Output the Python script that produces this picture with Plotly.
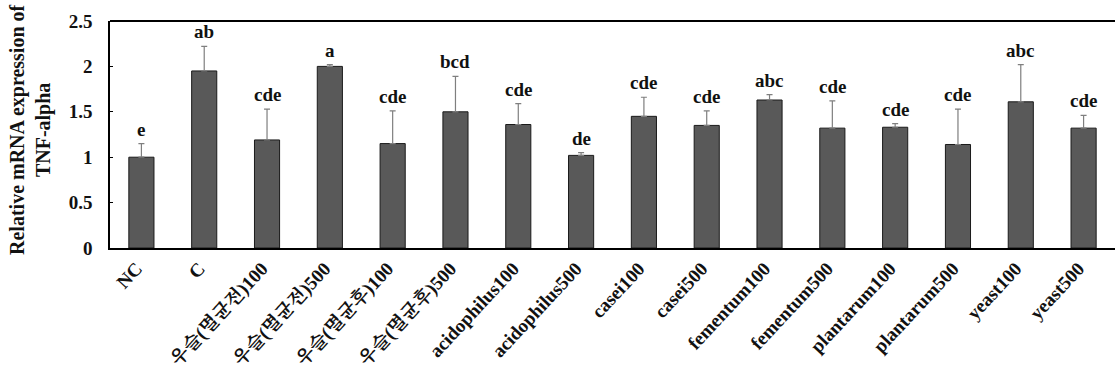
import plotly.graph_objects as go

categories = ["NC", "C", "우슬(멸균전)100", "우슬(멸균전)500", "우슬(멸균후)100", "우슬(멸균후)500",
              "acidophilus100", "acidophilus500", "casei100", "casei500",
              "fementum100", "fementum500", "plantarum100", "plantarum500",
              "yeast100", "yeast500"]
means = [1.00, 1.95, 1.19, 2.00, 1.15, 1.50, 1.36, 1.02, 1.45, 1.35, 1.63, 1.32, 1.33, 1.14, 1.61, 1.32]
sd_plus = [0.15, 0.27, 0.34, 0.02, 0.36, 0.39, 0.23, 0.03, 0.21, 0.16, 0.06, 0.30, 0.04, 0.39, 0.41, 0.14]
letters = ["e", "ab", "cde", "a", "cde", "bcd", "cde", "de", "cde", "cde",
           "abc", "cde", "cde", "cde", "abc", "cde"]

SERIF = "Liberation Serif, Times New Roman, Noto Serif CJK KR, Noto Sans CJK KR, serif"

fig = go.Figure()
fig.add_trace(go.Bar(
    x=categories, y=means, width=0.4,
    marker=dict(color="#595959", line=dict(color="#1a1a1a", width=1)),
    error_y=dict(type="data", array=sd_plus, arrayminus=[0] * len(means),
                 symmetric=False, color="#7f7f7f", thickness=1.2, width=3),
))

for cat, m, e, lab in zip(categories, means, sd_plus, letters):
    fig.add_annotation(x=cat, y=m + e, text=f"<b>{lab}</b>", showarrow=False,
                       yanchor="bottom", yshift=2,
                       font=dict(family=SERIF, size=19, color="#111"))

fig.add_annotation(xref="paper", yref="paper", x=-0.0786, y=0.52,
                   text="<b>Relative mRNA expression of<br>TNF-alpha</b>",
                   textangle=-90, showarrow=False, xanchor="center", yanchor="middle",
                   font=dict(family=SERIF, size=20, color="#111"))

# top frame line of the plot area
fig.add_shape(type="line", xref="paper", yref="paper", x0=0, x1=1, y0=1, y1=1,
              line=dict(color="black", width=2))

fig.update_layout(
    width=1115, height=379,
    margin=dict(l=110, r=0, t=21, b=131, pad=0),
    paper_bgcolor="white", plot_bgcolor="white",
    showlegend=False,
    bargap=0.6,
)
fig.update_xaxes(showline=True, linecolor="black", linewidth=2, mirror=False, automargin=False,
                 tickangle=-47, ticks="", ticklabelshift=-5,
                 tickfont=dict(family=SERIF, size=19, color="#111"),
                 tickprefix="<b>", ticksuffix="</b>")
fig.update_yaxes(range=[0, 2.5], showline=True, linecolor="black", linewidth=1.5,
                 mirror=False, showgrid=False, zeroline=False, automargin=False,
                 ticks="inside", ticklen=3, tickcolor="black", ticklabelstandoff=12,
                 tickvals=[0, 0.5, 1, 1.5, 2, 2.5],
                 ticktext=["<b>0</b>", "<b>0.5</b>", "<b>1</b>", "<b>1.5</b>", "<b>2</b>", "<b>2.5</b>"],
                 tickfont=dict(family=SERIF, size=19, color="#111"))

fig.write_html("out.html", config={"displayModeBar": False})
